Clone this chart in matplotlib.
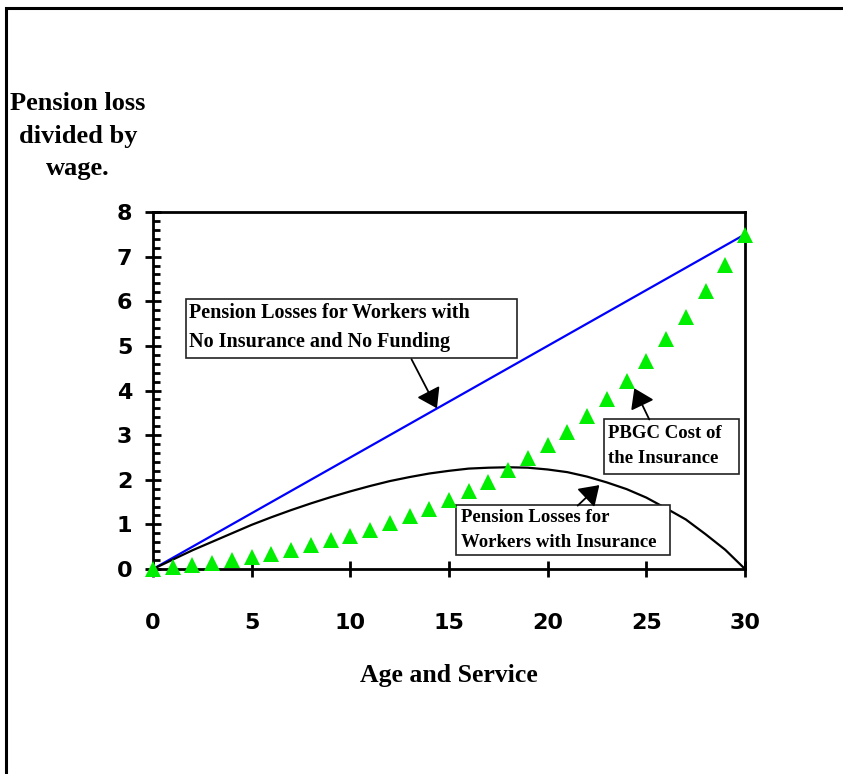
import numpy as np
import matplotlib.pyplot as plt
from matplotlib.patches import Rectangle
from matplotlib.ticker import MultipleLocator

# Age and service (years)
service = np.arange(0, 31)

# Pension loss / wage, no insurance and no funding (straight line)
no_insurance_x = [0, 30]
no_insurance_y = [0.0, 7.5]

# Pension loss / wage for workers with insurance
with_insurance = [
    0.00, 0.21, 0.42, 0.61, 0.80, 0.99, 1.16, 1.32, 1.47, 1.61,
    1.74, 1.86, 1.97, 2.06, 2.14, 2.20, 2.25, 2.27, 2.28, 2.27,
    2.23, 2.17, 2.07, 1.94, 1.79, 1.60, 1.36, 1.11, 0.78, 0.43,
    0.00,
]

# PBGC cost of the insurance (green triangles)
pbgc_cost = [
    0.00, 0.04, 0.08, 0.14, 0.20, 0.26, 0.34, 0.43, 0.53, 0.64,
    0.75, 0.88, 1.02, 1.18, 1.34, 1.54, 1.74, 1.96, 2.21, 2.48,
    2.77, 3.08, 3.43, 3.81, 4.21, 4.65, 5.15, 5.64, 6.23, 6.82,
    7.48,
]

x_ticks = [0, 5, 10, 15, 20, 25, 30]
y_ticks = [0, 1, 2, 3, 4, 5, 6, 7, 8]

serif = "Liberation Serif"
sans = "DejaVu Sans"

fig = plt.figure(figsize=(8.43, 7.74), dpi=100)
ax = fig.add_axes([153 / 843, 1 - 569 / 774, 592 / 843, 357 / 774])

ax.plot(no_insurance_x, no_insurance_y, c="#0000ff", linewidth=1.6, zorder=2)
ax.plot(service, with_insurance, c="k", linewidth=1.6, zorder=2)
ax.plot(service, pbgc_cost, linestyle="none", marker="^", markersize=12,
        c="#00ee00", markeredgewidth=0, zorder=6, clip_on=False)

ax.set_xlim(0, 30)
ax.set_ylim(0, 8)
ax.set_xticks(x_ticks)
ax.set_yticks(y_ticks)
ax.yaxis.set_minor_locator(MultipleLocator(0.2))

for side in ["left", "right", "top", "bottom"]:
    ax.spines[side].set_linewidth(2)

ax.tick_params(axis="both", which="major", direction="inout", length=12,
               width=2, labelsize=16)
ax.tick_params(axis="x", which="major", pad=26)
ax.tick_params(axis="y", which="major", pad=9)
ax.tick_params(axis="y", which="minor", direction="in", length=5, width=2)
for lbl in ax.get_xticklabels() + ax.get_yticklabels():
    lbl.set_fontfamily(sans)
    lbl.set_fontweight("bold")

ax.text(0.5, -0.297, "Age and Service", transform=ax.transAxes,
        ha="center", va="center", fontsize=18.5, fontweight="bold",
        family=serif)

fig.text(78 / 843, 1 - 136 / 774, "Pension loss\ndivided by\nwage.",
         ha="center", va="center", multialignment="center", fontsize=19,
         fontweight="bold", family=serif, linespacing=1.55)

# Annotation boxes: (x0, y0, x1, y1) in data units, text anchor, font size
boxes = [
    ((1.65, 4.72, 18.46, 6.06), (1.80, 5.42),
     "Pension Losses for Workers with\nNo Insurance and No Funding", 14.5),
    ((22.86, 2.13, 29.70, 3.36), (23.07, 2.76),
     "PBGC Cost of\nthe Insurance", 13.5),
    ((15.36, 0.31, 26.20, 1.43), (15.59, 0.88),
     "Pension Losses for\nWorkers with Insurance", 13.5),
]
for (x0, y0, x1, y1), (tx, ty), label, size in boxes:
    ax.add_patch(Rectangle((x0, y0), x1 - x0, y1 - y0, facecolor="white",
                           edgecolor="#222222", linewidth=1.2, zorder=4))
    ax.text(tx, ty, label, ha="left", va="center", fontsize=size,
            fontweight="bold", family=serif, linespacing=1.6, zorder=5)

arrows = [
    ((13.10, 4.70), (14.39, 3.60)),
    ((25.15, 3.35), (24.39, 4.05)),
    ((21.52, 1.42), (22.62, 1.88)),
]
for tail, tip in arrows:
    ax.annotate("", xy=tip, xytext=tail, zorder=7,
                arrowprops=dict(arrowstyle="-|>,head_length=0.45,head_width=0.3",
                                mutation_scale=26, lw=1.3, color="black",
                                shrinkA=0, shrinkB=0))

# Outer frame of the original figure (cropped on the right and bottom)
fig.add_artist(Rectangle((6 / 843, -0.1), 1.2, 1 - 8 / 774 + 0.1,
                         transform=fig.transFigure, fill=False,
                         edgecolor="black", linewidth=2.2, clip_on=False))

fig.savefig("out.png", dpi=100)
